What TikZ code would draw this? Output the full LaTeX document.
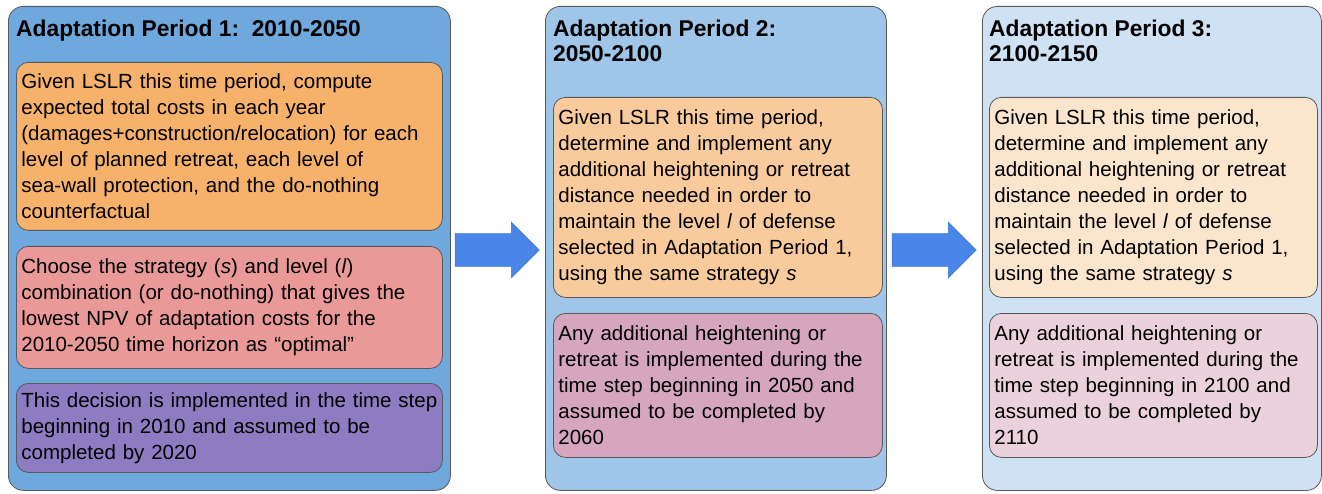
\documentclass[tikz,border=0pt]{standalone}
\usepackage{fontspec}
\setmainfont{Liberation Sans}
\usetikzlibrary{shapes.arrows}
\definecolor{edge}{HTML}{595959}
\definecolor{panelA}{HTML}{6FA8DC}
\definecolor{panelB}{HTML}{9FC5E8}
\definecolor{panelC}{HTML}{CFE2F3}
\definecolor{costs}{HTML}{F6B26B}
\definecolor{choose}{HTML}{EA9999}
\definecolor{decide}{HTML}{8E7CC3}
\definecolor{keepB}{HTML}{F9CB9C}
\definecolor{doneB}{HTML}{D5A6BD}
\definecolor{keepC}{HTML}{FCE5CD}
\definecolor{doneC}{HTML}{EAD1DC}
\definecolor{arrowfill}{HTML}{4A86E8}
\definecolor{arrowedge}{HTML}{3C78D8}

\begin{document}
\begin{tikzpicture}[x=1pt, y=-1pt,
  period/.style = {draw=edge, line width=0.8pt, rounded corners=15pt, anchor=north west, inner sep=0pt},
  heading/.style = {anchor=north west, inner sep=0pt, align=left, font=\fontsize{22.8}{25}\selectfont\bfseries},
  task/.style = {draw=edge, line width=0.8pt, rounded corners=12pt, anchor=north west, align=left,
                 inner xsep=5pt, inner ysep=0pt, font=\fontsize{20.5}{26}\selectfont},
  move/.style = {single arrow, draw=arrowedge, fill=arrowfill, line width=0.6pt, inner sep=0pt,
                 minimum height=84pt, single arrow head extend=11.5pt}]
\useasboundingbox (0,0) rectangle (1322,494);

\node[period, fill=panelA, minimum width=442pt, minimum height=484pt] (p1) at (8,6) {};
\node[period, fill=panelB, minimum width=341pt, minimum height=484pt] (p2) at (545,6) {};
\node[period, fill=panelC, minimum width=339pt, minimum height=484pt] (p3) at (982,6) {};

\node[heading] (t1) at (16,20) {Adaptation Period 1:\ \ 2010-2050};
\node[heading] (t2) at (553,20) {Adaptation Period 2:\\2050-2100};
\node[heading] (t3) at (989,20) {Adaptation Period 3:\\2100-2150};

\node[task, fill=costs, text width=416pt, minimum height=168pt] (a1) at (16,62)
  {Given LSLR this time period, compute\\expected total costs in each year\\(damages+construction/relocation) for each\\level of planned retreat, each level of\\sea-wall protection, and the do-nothing\\counterfactual};
\node[task, fill=choose, text width=416pt, minimum height=122pt] (b1) at (16,246)
  {Choose the strategy (\textit{s}) and level (\textit{l})\\combination (or do-nothing) that gives the\\lowest NPV of adaptation costs for the\\2010-2050 time horizon as “optimal”};
\node[task, fill=decide, text width=416pt, minimum height=89pt] (c1) at (16,383)
  {\mbox{This decision is implemented in the time step}\\beginning in 2010 and assumed to be\\completed by 2020};

\node[task, fill=keepB, text width=319pt, minimum height=200pt] (a2) at (553,97)
  {Given LSLR this time period,\\determine and implement any\\additional heightening or retreat\\distance needed in order to\\maintain the level \textit{l} of defense\\selected in Adaptation Period 1,\\using the same strategy \textit{s}};
\node[task, fill=doneB, text width=319pt, minimum height=144pt] (b2) at (553,313)
  {Any additional heightening or\\retreat is implemented during the\\time step beginning in 2050 and\\assumed to be completed by\\2060};

\node[task, fill=keepC, text width=318pt, minimum height=200pt] (a3) at (989,97)
  {Given LSLR this time period,\\determine and implement any\\additional heightening or retreat\\distance needed in order to\\maintain the level \textit{l} of defense\\selected in Adaptation Period 1,\\using the same strategy \textit{s}};
\node[task, fill=doneC, text width=318pt, minimum height=144pt] (b3) at (989,313)
  {Any additional heightening or\\retreat is implemented during the\\time step beginning in 2100 and\\assumed to be completed by\\2110};

\node[move] (m1) at (489,250) {\rule{0pt}{32pt}};
\node[move] (m2) at (926,250) {\rule{0pt}{32pt}};
\end{tikzpicture}
\end{document}
